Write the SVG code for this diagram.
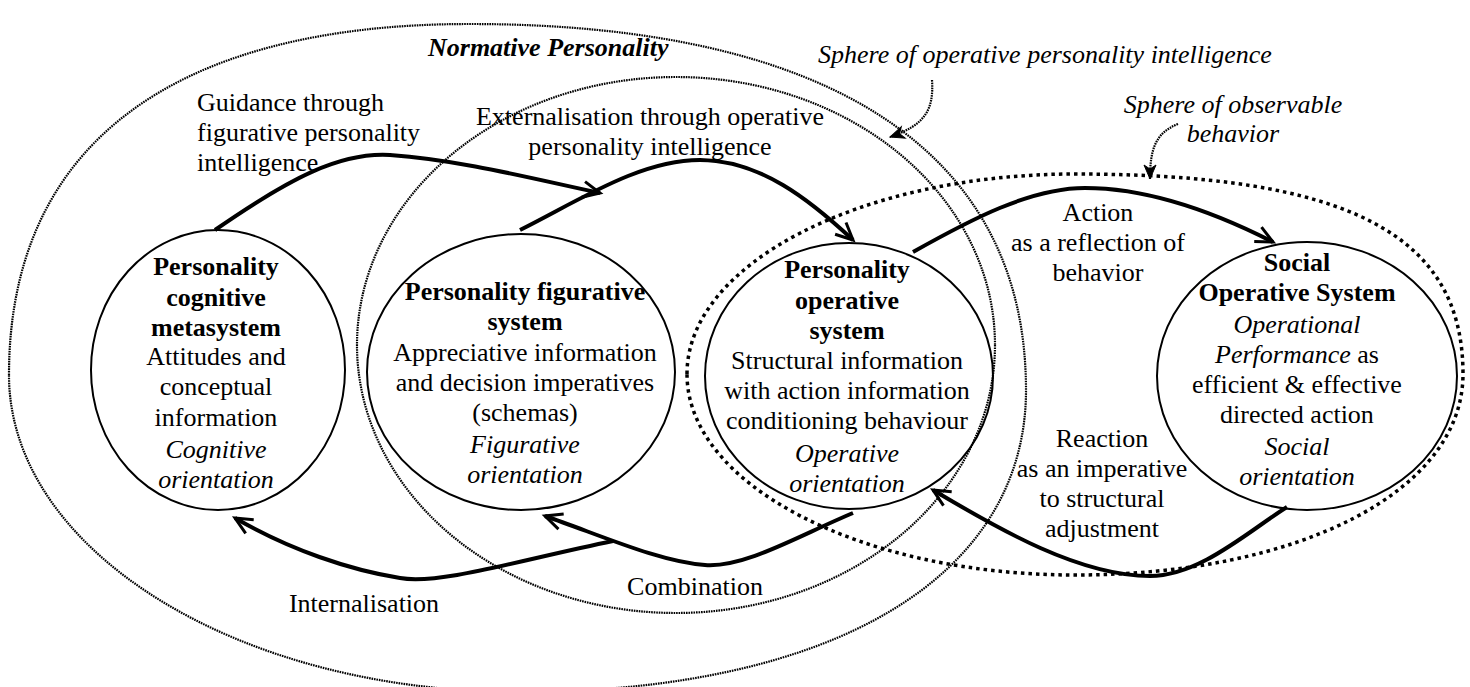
<svg xmlns="http://www.w3.org/2000/svg" width="1470" height="687" viewBox="0 0 1470 687">
<style>
  text { font-family: "Liberation Serif", "Times New Roman", serif; font-size: 26px; fill: #000; }
  .c { text-anchor: middle; }
  .b { font-weight: bold; }
  .i { font-style: italic; }
  .node { fill: none; stroke: #000; stroke-width: 2; }
  .fine { fill: none; stroke: #000; stroke-width: 2.2; stroke-dasharray: 1.6 0.9; }
  .obs { fill: none; stroke: #000; stroke-width: 3.5; stroke-dasharray: 3.5 4; }
  .conn { fill: none; stroke: #000; stroke-width: 4; marker-end: url(#arr); }
  .ptr { fill: none; stroke: #000; stroke-width: 2.2; stroke-dasharray: 1.6 0.9; marker-end: url(#ptrh); }
</style>
<defs>
  <marker id="arr" markerUnits="userSpaceOnUse" markerWidth="30" markerHeight="30" viewBox="-22 -15 30 30" refX="0" refY="0" orient="auto">
    <path d="M-17,-8 L0,0 L-17,8" fill="none" stroke="#000" stroke-width="3"/>
  </marker>
  <marker id="ptrh" markerUnits="userSpaceOnUse" markerWidth="30" markerHeight="30" viewBox="-22 -15 30 30" refX="0" refY="0" orient="auto">
    <path d="M0,0 L-14,-6 L-10,0 L-14,6 Z" fill="#000" stroke="#000" stroke-width="1"/>
  </marker>
</defs>
<rect width="1470" height="687" fill="#fff"/>

<g id="sphere-normative">
  <path class="fine" d="M9,375 C9,147 170,24 470,24 C831,24 1026,152 1026,390 C1026,577 833,692 519,692 C237,692 9,550 9,375 Z"/>
  <text class="b i" x="428" y="56">Normative Personality</text>
</g>
<g id="sphere-operative-intelligence">
  <ellipse class="fine" cx="676" cy="345" rx="319" ry="268"/>
  <text class="i" x="818" y="63">Sphere of operative personality intelligence</text>
</g>
<g id="sphere-observable">
  <path class="obs" d="M687,374 C687,264 861,174 1075,174 C1347,174 1463,234 1463,374 C1463,491 1300,575 1075,575 C861,575 687,485 687,374 Z"/>
  <text class="i c" x="1233" y="113">Sphere of observable</text>
  <text class="i c" x="1233" y="142">behavior</text>
</g>

<g id="node-cognitive">
  <ellipse class="node" cx="218" cy="370" rx="127" ry="140"/>
  <text class="c b" x="216" y="275">Personality</text>
  <text class="c b" x="216" y="306">cognitive</text>
  <text class="c b" x="216" y="336">metasystem</text>
  <text class="c" x="216" y="365">Attitudes and</text>
  <text class="c" x="216" y="395">conceptual</text>
  <text class="c" x="216" y="426">information</text>
  <text class="c i" x="216" y="458">Cognitive</text>
  <text class="c i" x="216" y="488">orientation</text>
</g>
<g id="node-figurative">
  <ellipse class="node" cx="521" cy="372" rx="154" ry="138"/>
  <text class="c b" x="525" y="300">Personality figurative</text>
  <text class="c b" x="525" y="330">system</text>
  <text class="c" x="525" y="361">Appreciative information</text>
  <text class="c" x="525" y="391">and decision imperatives</text>
  <text class="c" x="525" y="421">(schemas)</text>
  <text class="c i" x="525" y="453">Figurative</text>
  <text class="c i" x="525" y="483">orientation</text>
</g>
<g id="node-operative">
  <ellipse class="node" cx="849" cy="376" rx="144" ry="133"/>
  <text class="c b" x="847" y="278">Personality</text>
  <text class="c b" x="847" y="309">operative</text>
  <text class="c b" x="847" y="339">system</text>
  <text class="c" x="847" y="369">Structural information</text>
  <text class="c" x="847" y="399">with action information</text>
  <text class="c" x="847" y="429">conditioning behaviour</text>
  <text class="c i" x="847" y="462">Operative</text>
  <text class="c i" x="847" y="492">orientation</text>
</g>
<g id="node-social">
  <ellipse class="node" cx="1307" cy="376" rx="150" ry="134"/>
  <text class="c b" x="1297" y="271">Social</text>
  <text class="c b" x="1297" y="301">Operative System</text>
  <text class="c i" x="1297" y="333">Operational</text>
  <text class="c" x="1297" y="363"><tspan class="i">Performance</tspan> as</text>
  <text class="c" x="1297" y="393">efficient &amp; effective</text>
  <text class="c" x="1297" y="423">directed action</text>
  <text class="c i" x="1297" y="455">Social</text>
  <text class="c i" x="1297" y="485">orientation</text>
</g>

<g id="connectors">
  <path class="conn" d="M215,230 C290,178 340,152 390,155 C460,160 530,178 600,193"/>
  <path class="conn" d="M520,230 C580,200 640,160 700,160 C760,160 810,200 853,240"/>
  <path class="conn" d="M913,252 C970,220 1030,188 1085,188 C1150,188 1220,215 1273,242"/>
  <path class="conn" d="M1287,507 C1250,530 1200,576 1150,576 C1080,576 1000,530 933,490"/>
  <path class="conn" d="M853,513 C800,535 745,568 705,565 C660,562 600,535 545,516"/>
  <path class="conn" d="M613,541 C520,560 440,585 400,578 C350,570 290,550 235,518"/>
  <path class="ptr" d="M932,80 C934,110 925,125 890,137"/>
  <path class="ptr" d="M1178,124 C1155,133 1150,150 1150,179"/>
</g>

<g id="connector-labels">
  <text x="197" y="111">Guidance through</text>
  <text x="197" y="141">figurative personality</text>
  <text x="197" y="171">intelligence</text>
  <text class="c" x="650" y="125">Externalisation through operative</text>
  <text class="c" x="650" y="155">personality intelligence</text>
  <text class="c" x="1098" y="221">Action</text>
  <text class="c" x="1098" y="251">as a reflection of</text>
  <text class="c" x="1098" y="281">behavior</text>
  <text class="c" x="1102" y="447">Reaction</text>
  <text class="c" x="1102" y="477">as an imperative</text>
  <text class="c" x="1102" y="507">to structural</text>
  <text class="c" x="1102" y="537">adjustment</text>
  <text class="c" x="695" y="595">Combination</text>
  <text class="c" x="364" y="612">Internalisation</text>
</g>
</svg>
